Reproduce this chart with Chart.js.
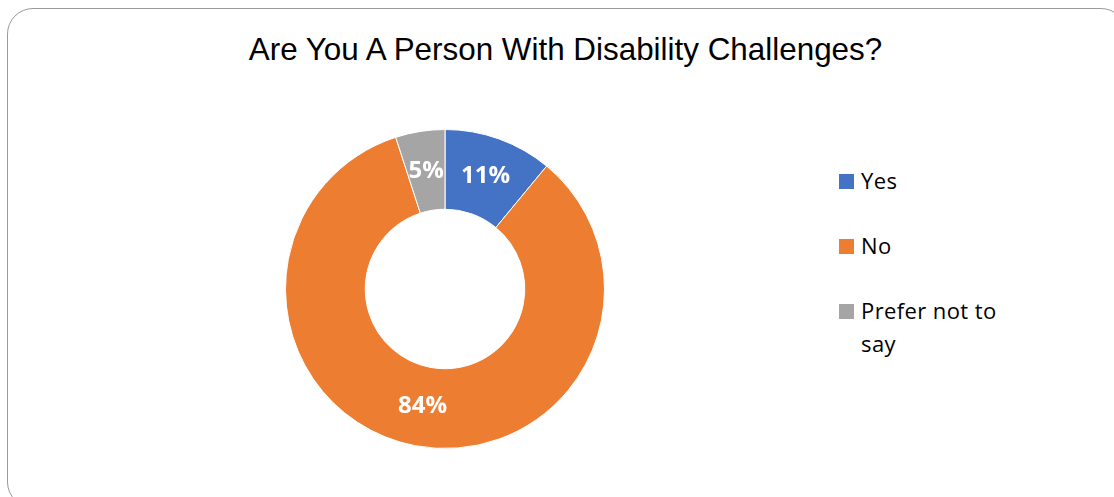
<!DOCTYPE html>
<html>
<head>
<meta charset="utf-8">
<script src="https://cdn.jsdelivr.net/npm/chart.js@4.4.1/dist/chart.umd.min.js"></script>
<style>
	html, body {
		margin: 0;
		padding: 0;
		width: 1114px;
		height: 497px;
		overflow: hidden;
		background: #fff;
	}
	.frame {
		position: absolute;
		left: 7px;
		top: 8px;
		width: 1120px;
		height: 500px;
		border: 1.5px solid #9a9a9a;
		border-radius: 26px;
		box-sizing: border-box;
	}
	.title {
		position: absolute;
		left: 0;
		width: 1131px;
		top: 32px;
		text-align: center;
		font-family: "Liberation Sans", Arial, sans-serif;
		font-size: 31.4px;
		line-height: 36px;
		color: #000;
	}
	.chart-box {
		position: absolute;
		left: 285px;
		top: 129px;
		width: 320px;
		height: 320px;
	}
	.legend {
		position: absolute;
		left: 839px;
		top: 164px;
		font-family: "Open Sans", sans-serif;
		font-size: 22px;
		letter-spacing: 0.4px;
		color: #000;
	}
	.legend__item {
		position: relative;
		padding-left: 22px;
		width: 150px;
		line-height: 33px;
		margin-bottom: 32px;
	}
	.legend__box {
		position: absolute;
		left: 0;
		top: 10px;
		width: 15px;
		height: 15px;
	}
</style>
</head>
<body>
<div class="frame"></div>
<div class="title">Are You A Person With Disability Challenges?</div>
<div class="chart-box"><canvas id="chart" width="320" height="320"></canvas></div>
<div class="legend" id="legend"></div>
<script>
// Data
const categories = ["Yes", "No", "Prefer not to say"];
const shares = [11, 84, 5];
const colors = ["#4472C4", "#ED7D31", "#A5A5A5"];

// Build the legend from the arrays
const legend = document.querySelector("#legend");
categories.forEach((cat, i) => {
	const markUp = `<div class="legend__item">
		<span class="legend__box" style="background:${colors[i]}"></span>${cat}
	</div>`;
	legend.insertAdjacentHTML("beforeEnd", markUp);
});

// Percent labels in the middle of each ring segment
const sliceLabels = {
	id: "sliceLabels",
	afterDatasetsDraw(chart) {
		const ctx = chart.ctx;
		const meta = chart.getDatasetMeta(0);
		ctx.save();
		ctx.fillStyle = "#fff";
		ctx.font = "bold 24px 'Open Sans', sans-serif";
		ctx.textAlign = "center";
		ctx.textBaseline = "middle";
		meta.data.forEach((arc, i) => {
			const pos = arc.getCenterPoint();
			ctx.fillText(`${shares[i]}%`, pos.x, pos.y);
		});
		ctx.restore();
	},
};

const ctx = document.getElementById("chart").getContext("2d");
const chart = new Chart(ctx, {
	type: "doughnut",
	data: {
		labels: categories,
		datasets: [
			{
				data: shares,
				backgroundColor: colors,
				borderColor: "#fff",
				borderWidth: 1,
			},
		],
	},
	options: {
		responsive: false,
		animation: false,
		cutout: "50%",
		layout: { padding: 0 },
		plugins: {
			legend: { display: false },
			tooltip: { enabled: false },
		},
	},
	plugins: [sliceLabels],
});
</script>
</body>
</html>
